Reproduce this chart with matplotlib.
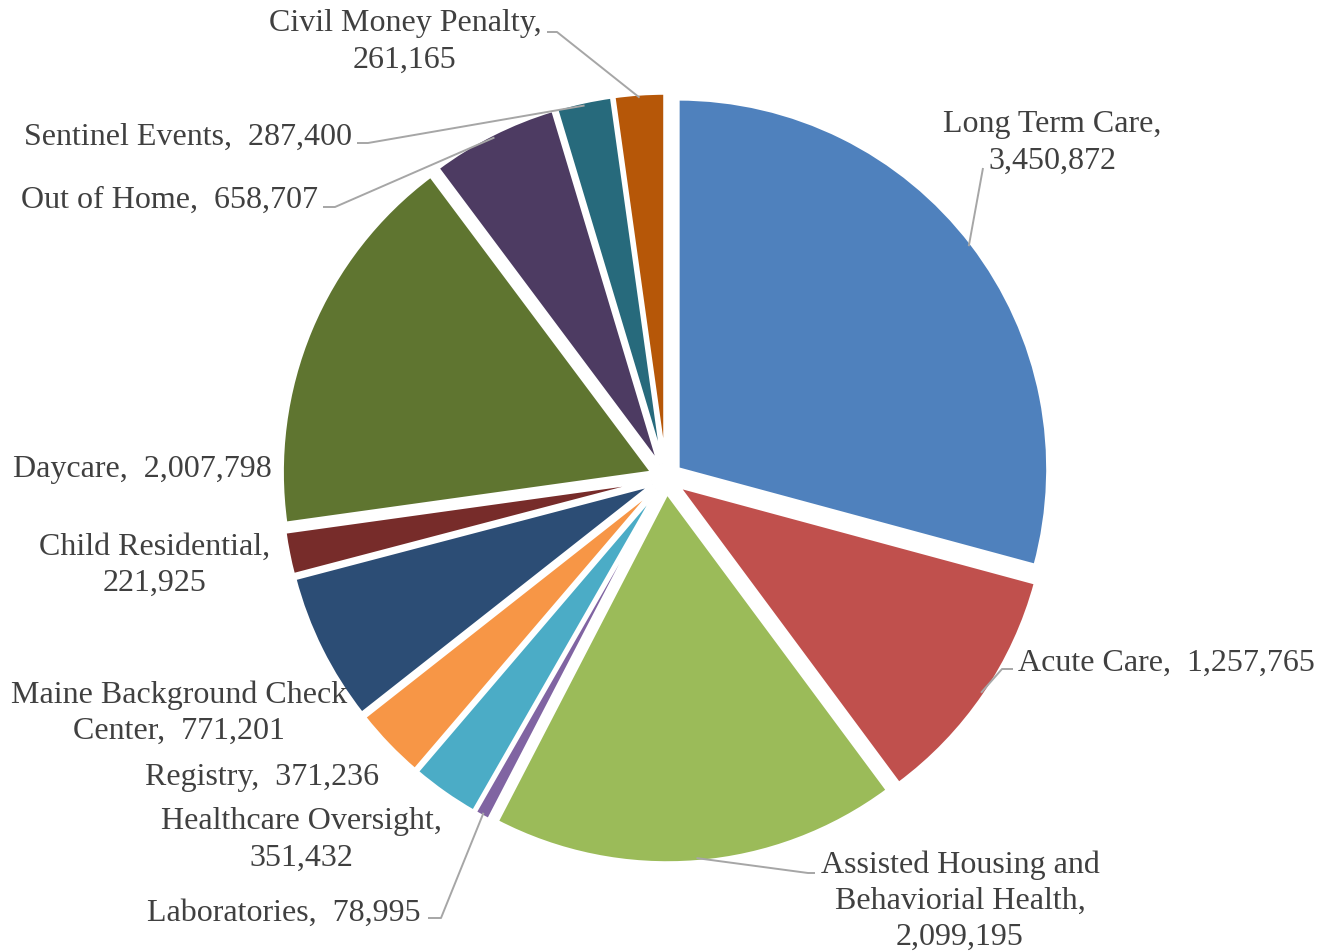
import numpy as np
import matplotlib
matplotlib.use("Agg")
import matplotlib.pyplot as plt

# ---- data (clockwise from 12 o'clock) ----
categories = ["Long Term Care", "Acute Care", "Assisted Housing and\nBehaviorial Health",
              "Laboratories", "Healthcare Oversight", "Registry",
              "Maine Background Check\nCenter", "Child Residential", "Daycare",
              "Out of Home", "Sentinel Events", "Civil Money Penalty"]
values = [3450872, 1257765, 2099195, 78995, 351432, 371236,
          771201, 221925, 2007798, 658707, 287400, 261165]
separators = ["\n", "  ", "\n", "  ", "\n", "  ", "  ", "\n", "  ", "  ", "  ", "\n"]
colors = ["#4F81BD", "#C0504D", "#9BBB59", "#8064A2", "#4BACC6", "#F79646",
          "#2C4D75", "#772C2A", "#5F7530", "#4D3B62", "#276A7C", "#B65708"]

# ---- layout (pixel coordinates, y down) ----
W, H = 1320, 952
def P(x, y):
    return (x, H - y)

label_pos = [(1052, 143), (1018, 663), (960, 901), (421, 913), (301, 840), (262, 778),
             (179, 713), (155, 565), (142, 469), (318, 200), (352, 137), (405, 42)]
label_ha = ["center", "left", "center", "right", "center", "center",
            "center", "center", "center", "right", "right", "center"]
leader = [[(983, 168)], [(1002, 669), (1013, 669)], [(808, 873), (815, 873)],
          [(441, 918), (428, 918)], None, None, None, None, None,
          [(335, 207), (323, 207)], [(368, 143), (357, 143)], [(557, 32), (547, 32)]]

plt.rcParams['font.family'] = ['Liberation Serif', 'DejaVu Serif']
fig = plt.figure(figsize=(W / 100, H / 100), dpi=100)
ax = fig.add_axes([0, 0, 1, 1])

wedges, _ = ax.pie(values, colors=colors, startangle=90, counterclock=False,
                   explode=[15] * len(values), center=P(666, 478), radius=370,
                   wedgeprops=dict(linewidth=2.5, edgecolor="white"))
ax.set_xlim(0, W)
ax.set_ylim(0, H)
ax.set_aspect('equal')
ax.axis('off')

txtcol = "#404040"
linecol = "#A6A6A6"
for i, w in enumerate(wedges):
    label = f"{categories[i]},{separators[i]}{values[i]:,}"
    x, y = P(*label_pos[i])
    ax.text(x, y, label, ha=label_ha[i], va="center", multialignment="center",
            fontsize=23, color=txtcol, linespacing=1.32)
    if leader[i] is not None:
        mid = np.deg2rad((w.theta1 + w.theta2) / 2)
        cx, cy = w.center
        sx = cx + w.r * 0.99 * np.cos(mid)
        sy = cy + w.r * 0.99 * np.sin(mid)
        pts = [(sx, sy)] + [P(*p) for p in leader[i]]
        xs, ys = zip(*pts)
        ax.plot(xs, ys, color=linecol, lw=1.4, solid_capstyle="butt", zorder=3)

fig.savefig("out.png", dpi=100)
